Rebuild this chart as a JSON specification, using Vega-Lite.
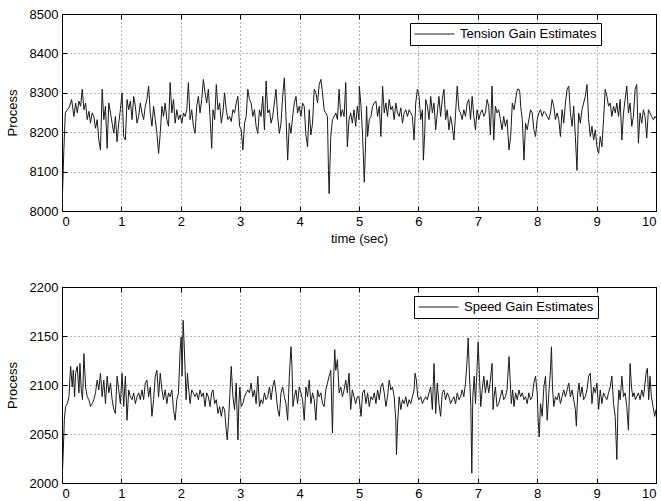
{
"$schema": "https://vega.github.io/schema/vega-lite/v6.json",
"padding": {"left": 5, "top": 7, "right": 0, "bottom": 0},
"background": "white",
"spacing": 76,
"bounds": "flush",
"config": {
  "font": "Liberation Sans",
  "view": {"stroke": "black", "strokeWidth": 1},
  "axis": {"labelFont": "Liberation Sans", "labelFontSize": 13, "labelColor": "black", "titleFont": "Liberation Sans", "titleFontSize": 13, "titleFontWeight": "normal", "titleColor": "black", "domainColor": "black", "tickColor": "black", "gridColor": "black", "gridDash": [1, 3], "gridOpacity": 0.6, "gridWidth": 1, "tickSize": -5, "labelPadding": 9},
  "legend": {"orient": "none", "symbolType": "stroke", "symbolSize": 1600, "symbolStrokeWidth": 1, "strokeColor": "black", "fillColor": "white", "padding": 4, "labelFont": "Liberation Sans", "labelFontSize": 13, "labelColor": "black", "labelOffset": 5, "title": null, "clipHeight": 14}
},
"resolve": {"scale": {"color": "independent"}, "legend": {"color": "independent"}},
"vconcat": [
{
  "width": 594, "height": 197,
  "data": {"values": [
{"t":0,"v":8000},{"t":0.03,"v":8150},{"t":0.056,"v":8249},{"t":0.089,"v":8257},{"t":0.117,"v":8262},{"t":0.145,"v":8274},{"t":0.162,"v":8283},{"t":0.201,"v":8240},{"t":0.229,"v":8274},{"t":0.257,"v":8249},{"t":0.285,"v":8279},{"t":0.313,"v":8266},{"t":0.341,"v":8309},{"t":0.369,"v":8257},{"t":0.397,"v":8274},{"t":0.425,"v":8232},{"t":0.453,"v":8253},{"t":0.48,"v":8223},{"t":0.508,"v":8249},{"t":0.536,"v":8240},{"t":0.564,"v":8210},{"t":0.592,"v":8232},{"t":0.62,"v":8180},{"t":0.648,"v":8155},{"t":0.676,"v":8309},{"t":0.704,"v":8232},{"t":0.732,"v":8266},{"t":0.76,"v":8159},{"t":0.788,"v":8274},{"t":0.816,"v":8249},{"t":0.844,"v":8223},{"t":0.872,"v":8197},{"t":0.899,"v":8240},{"t":0.927,"v":8176},{"t":0.955,"v":8223},{"t":0.983,"v":8257},{"t":1.011,"v":8300},{"t":1.039,"v":8189},{"t":1.067,"v":8180},{"t":1.095,"v":8283},{"t":1.123,"v":8257},{"t":1.151,"v":8279},{"t":1.179,"v":8232},{"t":1.207,"v":8291},{"t":1.235,"v":8266},{"t":1.263,"v":8223},{"t":1.291,"v":8240},{"t":1.318,"v":8274},{"t":1.346,"v":8249},{"t":1.374,"v":8232},{"t":1.402,"v":8266},{"t":1.43,"v":8283},{"t":1.458,"v":8317},{"t":1.486,"v":8249},{"t":1.514,"v":8215},{"t":1.542,"v":8266},{"t":1.57,"v":8232},{"t":1.598,"v":8197},{"t":1.626,"v":8146},{"t":1.654,"v":8197},{"t":1.682,"v":8266},{"t":1.709,"v":8240},{"t":1.737,"v":8274},{"t":1.765,"v":8232},{"t":1.793,"v":8215},{"t":1.821,"v":8326},{"t":1.849,"v":8249},{"t":1.877,"v":8283},{"t":1.905,"v":8223},{"t":1.933,"v":8257},{"t":1.961,"v":8232},{"t":1.989,"v":8244},{"t":2.017,"v":8223},{"t":2.045,"v":8249},{"t":2.073,"v":8240},{"t":2.101,"v":8257},{"t":2.128,"v":8326},{"t":2.156,"v":8232},{"t":2.184,"v":8257},{"t":2.212,"v":8215},{"t":2.24,"v":8197},{"t":2.268,"v":8266},{"t":2.296,"v":8291},{"t":2.324,"v":8249},{"t":2.352,"v":8283},{"t":2.38,"v":8334},{"t":2.408,"v":8300},{"t":2.436,"v":8274},{"t":2.464,"v":8309},{"t":2.492,"v":8240},{"t":2.52,"v":8159},
{"t":2.542,"v":8257},{"t":2.57,"v":8232},{"t":2.598,"v":8321},{"t":2.626,"v":8257},{"t":2.654,"v":8274},{"t":2.682,"v":8223},{"t":2.709,"v":8249},{"t":2.737,"v":8300},{"t":2.765,"v":8257},{"t":2.793,"v":8232},{"t":2.821,"v":8240},{"t":2.849,"v":8227},{"t":2.877,"v":8257},{"t":2.905,"v":8249},{"t":2.933,"v":8274},{"t":2.961,"v":8291},{"t":2.989,"v":8215},{"t":3.017,"v":8206},{"t":3.045,"v":8155},{"t":3.073,"v":8223},{"t":3.101,"v":8240},{"t":3.128,"v":8309},{"t":3.156,"v":8283},{"t":3.184,"v":8274},{"t":3.212,"v":8240},{"t":3.24,"v":8257},{"t":3.268,"v":8215},{"t":3.296,"v":8197},{"t":3.324,"v":8257},{"t":3.352,"v":8240},{"t":3.38,"v":8291},{"t":3.408,"v":8206},{"t":3.436,"v":8330},{"t":3.464,"v":8249},{"t":3.492,"v":8257},{"t":3.52,"v":8223},{"t":3.547,"v":8240},{"t":3.575,"v":8274},{"t":3.603,"v":8309},{"t":3.631,"v":8240},{"t":3.659,"v":8197},{"t":3.687,"v":8223},{"t":3.715,"v":8291},{"t":3.743,"v":8338},{"t":3.771,"v":8240},{"t":3.799,"v":8129},{"t":3.827,"v":8223},{"t":3.855,"v":8197},{"t":3.883,"v":8240},{"t":3.911,"v":8274},{"t":3.939,"v":8291},{"t":3.966,"v":8249},{"t":3.994,"v":8266},{"t":4.022,"v":8240},{"t":4.05,"v":8274},{"t":4.078,"v":8266},{"t":4.106,"v":8193},{"t":4.134,"v":8163},{"t":4.162,"v":8257},{"t":4.19,"v":8193},{"t":4.218,"v":8223},{"t":4.246,"v":8309},{"t":4.274,"v":8300},{"t":4.302,"v":8274},{"t":4.33,"v":8321},{"t":4.358,"v":8334},{"t":4.385,"v":8300},{"t":4.413,"v":8257},{"t":4.441,"v":8249},{"t":4.469,"v":8240},{"t":4.486,"v":8103},{"t":4.497,"v":8044},{"t":4.525,"v":8189},{"t":4.553,"v":8232},{"t":4.581,"v":8240},{"t":4.609,"v":8249},{"t":4.637,"v":8232},{"t":4.665,"v":8309},{"t":4.693,"v":8240},{"t":4.721,"v":8257},{"t":4.749,"v":8240},{"t":4.777,"v":8326},{"t":4.804,"v":8163},{"t":4.832,"v":8232},{"t":4.86,"v":8249},{"t":4.888,"v":8223},{"t":4.916,"v":8257},{"t":4.944,"v":8215},{"t":4.972,"v":8266},{"t":5.0,"v":8232},
{"t":5.006,"v":8317},{"t":5.034,"v":8266},{"t":5.061,"v":8189},{"t":5.089,"v":8073},{"t":5.106,"v":8146},{"t":5.128,"v":8266},{"t":5.145,"v":8189},{"t":5.173,"v":8232},{"t":5.201,"v":8240},{"t":5.229,"v":8266},{"t":5.257,"v":8274},{"t":5.285,"v":8279},{"t":5.313,"v":8240},{"t":5.341,"v":8266},{"t":5.369,"v":8189},{"t":5.397,"v":8317},{"t":5.425,"v":8249},{"t":5.453,"v":8274},{"t":5.48,"v":8240},{"t":5.508,"v":8283},{"t":5.536,"v":8257},{"t":5.564,"v":8266},{"t":5.592,"v":8232},{"t":5.62,"v":8274},{"t":5.648,"v":8249},{"t":5.676,"v":8240},{"t":5.704,"v":8262},{"t":5.732,"v":8223},{"t":5.76,"v":8249},{"t":5.788,"v":8257},{"t":5.816,"v":8240},{"t":5.844,"v":8257},{"t":5.872,"v":8249},{"t":5.899,"v":8240},{"t":5.927,"v":8180},{"t":5.955,"v":8274},{"t":5.983,"v":8309},{"t":6.011,"v":8291},{"t":6.039,"v":8232},{"t":6.067,"v":8257},{"t":6.084,"v":8129},{"t":6.106,"v":8197},{"t":6.123,"v":8283},{"t":6.151,"v":8266},{"t":6.179,"v":8232},{"t":6.207,"v":8291},{"t":6.235,"v":8249},{"t":6.263,"v":8274},{"t":6.291,"v":8206},{"t":6.318,"v":8249},{"t":6.346,"v":8291},{"t":6.374,"v":8240},{"t":6.402,"v":8283},{"t":6.43,"v":8309},{"t":6.458,"v":8232},{"t":6.486,"v":8257},{"t":6.514,"v":8206},{"t":6.542,"v":8240},{"t":6.57,"v":8215},{"t":6.598,"v":8180},{"t":6.626,"v":8249},{"t":6.654,"v":8317},{"t":6.682,"v":8257},{"t":6.709,"v":8249},{"t":6.737,"v":8232},{"t":6.765,"v":8257},{"t":6.793,"v":8240},{"t":6.821,"v":8274},{"t":6.849,"v":8283},{"t":6.877,"v":8232},{"t":6.905,"v":8291},{"t":6.933,"v":8240},{"t":6.961,"v":8206},{"t":6.989,"v":8257},{"t":7.017,"v":8232},{"t":7.045,"v":8249},{"t":7.073,"v":8257},{"t":7.101,"v":8240},{"t":7.128,"v":8249},{"t":7.156,"v":8283},{"t":7.184,"v":8266},{"t":7.212,"v":8193},{"t":7.24,"v":8317},{"t":7.268,"v":8180},{"t":7.296,"v":8266},{"t":7.324,"v":8249},{"t":7.352,"v":8257},{"t":7.38,"v":8232},{"t":7.408,"v":8206},{"t":7.436,"v":8240},{"t":7.464,"v":8215},{"t":7.492,"v":8232},
{"t":7.525,"v":8155},{"t":7.553,"v":8189},{"t":7.581,"v":8274},{"t":7.609,"v":8257},{"t":7.637,"v":8283},{"t":7.665,"v":8309},{"t":7.693,"v":8309},{"t":7.709,"v":8300},{"t":7.721,"v":8266},{"t":7.749,"v":8232},{"t":7.777,"v":8129},{"t":7.804,"v":8223},{"t":7.832,"v":8206},{"t":7.86,"v":8232},{"t":7.888,"v":8257},{"t":7.916,"v":8249},{"t":7.944,"v":8206},{"t":7.972,"v":8189},{"t":8.0,"v":8232},{"t":8.028,"v":8249},{"t":8.056,"v":8257},{"t":8.084,"v":8240},{"t":8.112,"v":8253},{"t":8.14,"v":8249},{"t":8.168,"v":8240},{"t":8.196,"v":8232},{"t":8.223,"v":8249},{"t":8.251,"v":8283},{"t":8.279,"v":8266},{"t":8.307,"v":8232},{"t":8.335,"v":8249},{"t":8.363,"v":8232},{"t":8.391,"v":8189},{"t":8.419,"v":8257},{"t":8.447,"v":8223},{"t":8.475,"v":8274},{"t":8.503,"v":8309},{"t":8.531,"v":8317},{"t":8.559,"v":8249},{"t":8.587,"v":8215},{"t":8.615,"v":8266},{"t":8.642,"v":8189},{"t":8.67,"v":8103},{"t":8.687,"v":8206},{"t":8.698,"v":8249},{"t":8.726,"v":8223},{"t":8.754,"v":8257},{"t":8.782,"v":8274},{"t":8.81,"v":8291},{"t":8.838,"v":8321},{"t":8.866,"v":8232},{"t":8.894,"v":8189},{"t":8.922,"v":8215},{"t":8.95,"v":8180},{"t":8.978,"v":8206},{"t":9.006,"v":8163},{"t":9.034,"v":8146},{"t":9.061,"v":8189},{"t":9.089,"v":8163},{"t":9.117,"v":8232},{"t":9.145,"v":8309},{"t":9.173,"v":8291},{"t":9.201,"v":8266},{"t":9.229,"v":8274},{"t":9.257,"v":8240},{"t":9.285,"v":8266},{"t":9.313,"v":8249},{"t":9.341,"v":8274},{"t":9.369,"v":8240},{"t":9.397,"v":8283},{"t":9.425,"v":8180},{"t":9.453,"v":8249},{"t":9.48,"v":8283},{"t":9.508,"v":8317},{"t":9.536,"v":8249},{"t":9.564,"v":8274},{"t":9.592,"v":8215},{"t":9.62,"v":8240},{"t":9.648,"v":8309},{"t":9.676,"v":8321},{"t":9.704,"v":8172},{"t":9.732,"v":8249},{"t":9.76,"v":8223},{"t":9.788,"v":8257},{"t":9.816,"v":8240},{"t":9.844,"v":8185},{"t":9.872,"v":8257},{"t":9.899,"v":8249},{"t":9.927,"v":8240},{"t":9.955,"v":8232},{"t":9.983,"v":8240},{"t":10.0,"v":8236}
  ]},
  "layer": [
  {
  "mark": {"type": "line", "strokeWidth": 1, "clip": true},
  "encoding": {
    "x": {"field": "t", "type": "quantitative", "scale": {"domain": [0, 10], "nice": false}, "axis": {"values": [0,1,2,3,4,5,6,7,8,9,10], "format": "d", "title": "time (sec)", "titlePadding": 4}},
    "y": {"field": "v", "type": "quantitative", "scale": {"domain": [8000, 8500], "nice": false, "zero": false}, "axis": {"values": [8000,8100,8200,8300,8400,8500], "format": "d", "title": "Process", "titlePadding": 10}},
    "color": {"datum": "Tension Gain Estimates", "type": "nominal", "scale": {"range": ["#1a1a1a"]}, "legend": {"legendX": 348, "legendY": 9}}
  }
  },
  {
  "mark": {"type": "line", "strokeWidth": 1, "opacity": 0, "clip": true},
  "encoding": {
    "x": {"field": "t", "type": "quantitative", "axis": {"orient": "top", "values": [0,1,2,3,4,5,6,7,8,9,10], "labels": false, "grid": false, "domain": false, "title": null}},
    "y": {"field": "v", "type": "quantitative", "axis": {"orient": "right", "values": [8000,8100,8200,8300,8400,8500], "labels": false, "grid": false, "domain": false, "title": null}}
  }
  }
  ],
  "resolve": {"axis": {"x": "independent", "y": "independent"}}
},
{
  "width": 594, "height": 196,
  "data": {"values": [
{"t":0,"v":2000},{"t":0.02,"v":2030},{"t":0.04,"v":2065},{"t":0.06,"v":2078},{"t":0.089,"v":2081},{"t":0.117,"v":2088},{"t":0.145,"v":2119},{"t":0.173,"v":2098},{"t":0.19,"v":2115},{"t":0.212,"v":2088},{"t":0.229,"v":2112},{"t":0.257,"v":2119},{"t":0.285,"v":2092},{"t":0.302,"v":2122},{"t":0.324,"v":2095},{"t":0.346,"v":2085},{"t":0.369,"v":2132},{"t":0.397,"v":2098},{"t":0.425,"v":2088},{"t":0.453,"v":2085},{"t":0.48,"v":2078},{"t":0.508,"v":2081},{"t":0.536,"v":2085},{"t":0.564,"v":2092},{"t":0.592,"v":2105},{"t":0.62,"v":2095},{"t":0.648,"v":2112},{"t":0.676,"v":2088},{"t":0.704,"v":2105},{"t":0.732,"v":2081},{"t":0.76,"v":2109},{"t":0.788,"v":2092},{"t":0.816,"v":2102},{"t":0.844,"v":2085},{"t":0.872,"v":2075},{"t":0.899,"v":2071},{"t":0.927,"v":2109},{"t":0.955,"v":2095},{"t":0.983,"v":2081},{"t":1.011,"v":2112},{"t":1.039,"v":2078},{"t":1.067,"v":2109},{"t":1.095,"v":2064},{"t":1.123,"v":2095},{"t":1.151,"v":2088},{"t":1.179,"v":2085},{"t":1.207,"v":2092},{"t":1.235,"v":2081},{"t":1.263,"v":2088},{"t":1.291,"v":2092},{"t":1.318,"v":2085},{"t":1.346,"v":2095},{"t":1.374,"v":2085},{"t":1.402,"v":2102},{"t":1.43,"v":2105},{"t":1.458,"v":2088},{"t":1.486,"v":2098},{"t":1.514,"v":2068},{"t":1.542,"v":2085},{"t":1.57,"v":2109},{"t":1.598,"v":2115},{"t":1.626,"v":2088},{"t":1.654,"v":2112},{"t":1.682,"v":2095},{"t":1.709,"v":2085},{"t":1.737,"v":2095},{"t":1.765,"v":2081},{"t":1.793,"v":2092},{"t":1.821,"v":2088},{"t":1.849,"v":2095},{"t":1.877,"v":2075},{"t":1.905,"v":2064},{"t":1.933,"v":2085},{"t":1.961,"v":2092},{"t":1.989,"v":2136},{"t":2.006,"v":2149},{"t":2.022,"v":2109},{"t":2.039,"v":2166},{"t":2.056,"v":2142},{"t":2.073,"v":2115},{"t":2.089,"v":2085},{"t":2.112,"v":2112},{"t":2.134,"v":2095},{"t":2.156,"v":2081},{"t":2.184,"v":2095},{"t":2.212,"v":2092},{"t":2.24,"v":2088},{"t":2.268,"v":2092},{"t":2.296,"v":2085},{"t":2.324,"v":2095},{"t":2.352,"v":2088},{"t":2.38,"v":2092},{"t":2.408,"v":2078},{"t":2.436,"v":2092},{"t":2.464,"v":2088},{"t":2.492,"v":2078},{"t":2.52,"v":2092},
{"t":2.542,"v":2095},{"t":2.57,"v":2081},{"t":2.598,"v":2085},{"t":2.626,"v":2071},{"t":2.654,"v":2078},{"t":2.682,"v":2068},{"t":2.709,"v":2078},{"t":2.737,"v":2075},{"t":2.765,"v":2054},{"t":2.782,"v":2044},{"t":2.804,"v":2064},{"t":2.827,"v":2092},{"t":2.849,"v":2119},{"t":2.877,"v":2088},{"t":2.905,"v":2075},{"t":2.933,"v":2102},{"t":2.95,"v":2068},{"t":2.961,"v":2044},{"t":2.978,"v":2081},{"t":2.994,"v":2098},{"t":3.017,"v":2078},{"t":3.045,"v":2081},{"t":3.073,"v":2088},{"t":3.101,"v":2092},{"t":3.128,"v":2095},{"t":3.156,"v":2092},{"t":3.184,"v":2102},{"t":3.212,"v":2088},{"t":3.24,"v":2095},{"t":3.268,"v":2081},{"t":3.296,"v":2109},{"t":3.324,"v":2078},{"t":3.352,"v":2085},{"t":3.38,"v":2081},{"t":3.408,"v":2092},{"t":3.436,"v":2085},{"t":3.464,"v":2088},{"t":3.492,"v":2098},{"t":3.52,"v":2085},{"t":3.547,"v":2098},{"t":3.575,"v":2105},{"t":3.603,"v":2092},{"t":3.631,"v":2075},{"t":3.659,"v":2068},{"t":3.687,"v":2092},{"t":3.715,"v":2098},{"t":3.743,"v":2088},{"t":3.771,"v":2081},{"t":3.799,"v":2064},{"t":3.827,"v":2109},{"t":3.855,"v":2139},{"t":3.872,"v":2119},{"t":3.888,"v":2078},{"t":3.911,"v":2088},{"t":3.939,"v":2095},{"t":3.966,"v":2081},{"t":3.994,"v":2098},{"t":4.022,"v":2092},{"t":4.05,"v":2085},{"t":4.078,"v":2064},{"t":4.106,"v":2098},{"t":4.134,"v":2088},{"t":4.162,"v":2105},{"t":4.19,"v":2081},{"t":4.218,"v":2092},{"t":4.246,"v":2085},{"t":4.274,"v":2064},{"t":4.302,"v":2095},{"t":4.33,"v":2088},{"t":4.358,"v":2092},{"t":4.385,"v":2081},{"t":4.413,"v":2078},{"t":4.441,"v":2095},{"t":4.469,"v":2102},{"t":4.497,"v":2109},{"t":4.525,"v":2115},{"t":4.553,"v":2051},{"t":4.57,"v":2102},{"t":4.592,"v":2136},{"t":4.609,"v":2115},{"t":4.637,"v":2126},{"t":4.665,"v":2092},{"t":4.693,"v":2098},{"t":4.721,"v":2088},{"t":4.749,"v":2095},{"t":4.777,"v":2105},{"t":4.804,"v":2092},{"t":4.832,"v":2112},{"t":4.86,"v":2075},{"t":4.888,"v":2095},{"t":4.916,"v":2088},{"t":4.944,"v":2081},{"t":4.972,"v":2088},{"t":5.0,"v":2088},
{"t":5.034,"v":2068},{"t":5.061,"v":2092},{"t":5.089,"v":2095},{"t":5.117,"v":2081},{"t":5.145,"v":2092},{"t":5.173,"v":2078},{"t":5.201,"v":2088},{"t":5.229,"v":2085},{"t":5.257,"v":2092},{"t":5.285,"v":2081},{"t":5.313,"v":2095},{"t":5.341,"v":2085},{"t":5.369,"v":2098},{"t":5.397,"v":2102},{"t":5.425,"v":2092},{"t":5.453,"v":2078},{"t":5.48,"v":2088},{"t":5.508,"v":2105},{"t":5.536,"v":2095},{"t":5.564,"v":2098},{"t":5.592,"v":2088},{"t":5.62,"v":2064},{"t":5.631,"v":2029},{"t":5.648,"v":2058},{"t":5.676,"v":2088},{"t":5.704,"v":2075},{"t":5.732,"v":2085},{"t":5.76,"v":2081},{"t":5.788,"v":2088},{"t":5.816,"v":2078},{"t":5.844,"v":2085},{"t":5.872,"v":2081},{"t":5.899,"v":2088},{"t":5.927,"v":2095},{"t":5.944,"v":2112},{"t":5.966,"v":2105},{"t":5.989,"v":2088},{"t":6.011,"v":2085},{"t":6.039,"v":2088},{"t":6.067,"v":2081},{"t":6.095,"v":2085},{"t":6.123,"v":2088},{"t":6.151,"v":2085},{"t":6.179,"v":2092},{"t":6.207,"v":2098},{"t":6.235,"v":2075},{"t":6.263,"v":2122},{"t":6.291,"v":2071},{"t":6.318,"v":2102},{"t":6.346,"v":2081},{"t":6.374,"v":2068},{"t":6.402,"v":2092},{"t":6.43,"v":2095},{"t":6.458,"v":2085},{"t":6.486,"v":2092},{"t":6.514,"v":2088},{"t":6.542,"v":2081},{"t":6.57,"v":2085},{"t":6.598,"v":2088},{"t":6.626,"v":2081},{"t":6.654,"v":2092},{"t":6.682,"v":2085},{"t":6.709,"v":2088},{"t":6.737,"v":2095},{"t":6.765,"v":2088},{"t":6.793,"v":2102},{"t":6.821,"v":2126},{"t":6.838,"v":2148},{"t":6.86,"v":2109},{"t":6.883,"v":2078},{"t":6.899,"v":2010},{"t":6.916,"v":2088},{"t":6.939,"v":2109},{"t":6.961,"v":2081},{"t":6.989,"v":2119},{"t":7.006,"v":2144},{"t":7.028,"v":2109},{"t":7.05,"v":2078},{"t":7.073,"v":2095},{"t":7.101,"v":2109},{"t":7.128,"v":2092},{"t":7.156,"v":2105},{"t":7.184,"v":2092},{"t":7.212,"v":2105},{"t":7.24,"v":2122},{"t":7.257,"v":2075},{"t":7.274,"v":2088},{"t":7.296,"v":2098},{"t":7.324,"v":2078},{"t":7.352,"v":2081},{"t":7.38,"v":2088},{"t":7.408,"v":2095},{"t":7.436,"v":2085},{"t":7.464,"v":2088},{"t":7.492,"v":2095},
{"t":7.525,"v":2129},{"t":7.542,"v":2109},{"t":7.564,"v":2081},{"t":7.587,"v":2095},{"t":7.609,"v":2078},{"t":7.637,"v":2092},{"t":7.665,"v":2085},{"t":7.693,"v":2095},{"t":7.721,"v":2088},{"t":7.749,"v":2092},{"t":7.777,"v":2085},{"t":7.804,"v":2088},{"t":7.832,"v":2081},{"t":7.86,"v":2092},{"t":7.888,"v":2085},{"t":7.916,"v":2088},{"t":7.944,"v":2102},{"t":7.972,"v":2109},{"t":8.0,"v":2092},{"t":8.017,"v":2064},{"t":8.034,"v":2047},{"t":8.056,"v":2081},{"t":8.084,"v":2068},{"t":8.112,"v":2098},{"t":8.14,"v":2109},{"t":8.168,"v":2064},{"t":8.196,"v":2092},{"t":8.223,"v":2115},{"t":8.24,"v":2139},{"t":8.257,"v":2098},{"t":8.279,"v":2078},{"t":8.307,"v":2088},{"t":8.335,"v":2085},{"t":8.363,"v":2092},{"t":8.391,"v":2081},{"t":8.419,"v":2088},{"t":8.447,"v":2095},{"t":8.475,"v":2088},{"t":8.503,"v":2095},{"t":8.531,"v":2102},{"t":8.559,"v":2088},{"t":8.587,"v":2095},{"t":8.615,"v":2085},{"t":8.642,"v":2075},{"t":8.659,"v":2058},{"t":8.682,"v":2092},{"t":8.704,"v":2102},{"t":8.726,"v":2088},{"t":8.754,"v":2098},{"t":8.782,"v":2085},{"t":8.81,"v":2088},{"t":8.838,"v":2095},{"t":8.866,"v":2109},{"t":8.894,"v":2112},{"t":8.922,"v":2081},{"t":8.95,"v":2098},{"t":8.978,"v":2092},{"t":9.006,"v":2102},{"t":9.034,"v":2075},{"t":9.061,"v":2095},{"t":9.089,"v":2081},{"t":9.117,"v":2092},{"t":9.145,"v":2088},{"t":9.173,"v":2085},{"t":9.201,"v":2092},{"t":9.229,"v":2098},{"t":9.257,"v":2109},{"t":9.285,"v":2081},{"t":9.313,"v":2068},{"t":9.341,"v":2024},{"t":9.358,"v":2075},{"t":9.374,"v":2095},{"t":9.397,"v":2085},{"t":9.425,"v":2109},{"t":9.453,"v":2088},{"t":9.48,"v":2092},{"t":9.508,"v":2078},{"t":9.536,"v":2054},{"t":9.553,"v":2095},{"t":9.564,"v":2122},{"t":9.587,"v":2098},{"t":9.609,"v":2088},{"t":9.631,"v":2092},{"t":9.654,"v":2085},{"t":9.676,"v":2088},{"t":9.704,"v":2092},{"t":9.732,"v":2085},{"t":9.76,"v":2095},{"t":9.788,"v":2088},{"t":9.816,"v":2102},{"t":9.832,"v":2112},{"t":9.855,"v":2117},{"t":9.877,"v":2085},{"t":9.899,"v":2109},{"t":9.922,"v":2088},{"t":9.95,"v":2078},{"t":9.978,"v":2068},{"t":10.0,"v":2075}
  ]},
  "layer": [
  {
  "mark": {"type": "line", "strokeWidth": 1, "clip": true},
  "encoding": {
    "x": {"field": "t", "type": "quantitative", "scale": {"domain": [0, 10], "nice": false}, "axis": {"values": [0,1,2,3,4,5,6,7,8,9,10], "format": "d", "title": null}},
    "y": {"field": "v", "type": "quantitative", "scale": {"domain": [2000, 2200], "nice": false, "zero": false}, "axis": {"values": [2000,2050,2100,2150,2200], "format": "d", "title": "Process", "titlePadding": 10}},
    "color": {"datum": "Speed Gain Estimates", "type": "nominal", "scale": {"range": ["#1a1a1a"]}, "legend": {"legendX": 352, "legendY": 9}}
  }
  },
  {
  "mark": {"type": "line", "strokeWidth": 1, "opacity": 0, "clip": true},
  "encoding": {
    "x": {"field": "t", "type": "quantitative", "axis": {"orient": "top", "values": [0,1,2,3,4,5,6,7,8,9,10], "labels": false, "grid": false, "domain": false, "title": null}},
    "y": {"field": "v", "type": "quantitative", "axis": {"orient": "right", "values": [2000,2050,2100,2150,2200], "labels": false, "grid": false, "domain": false, "title": null}}
  }
  }
  ],
  "resolve": {"axis": {"x": "independent", "y": "independent"}}
}
]
}
